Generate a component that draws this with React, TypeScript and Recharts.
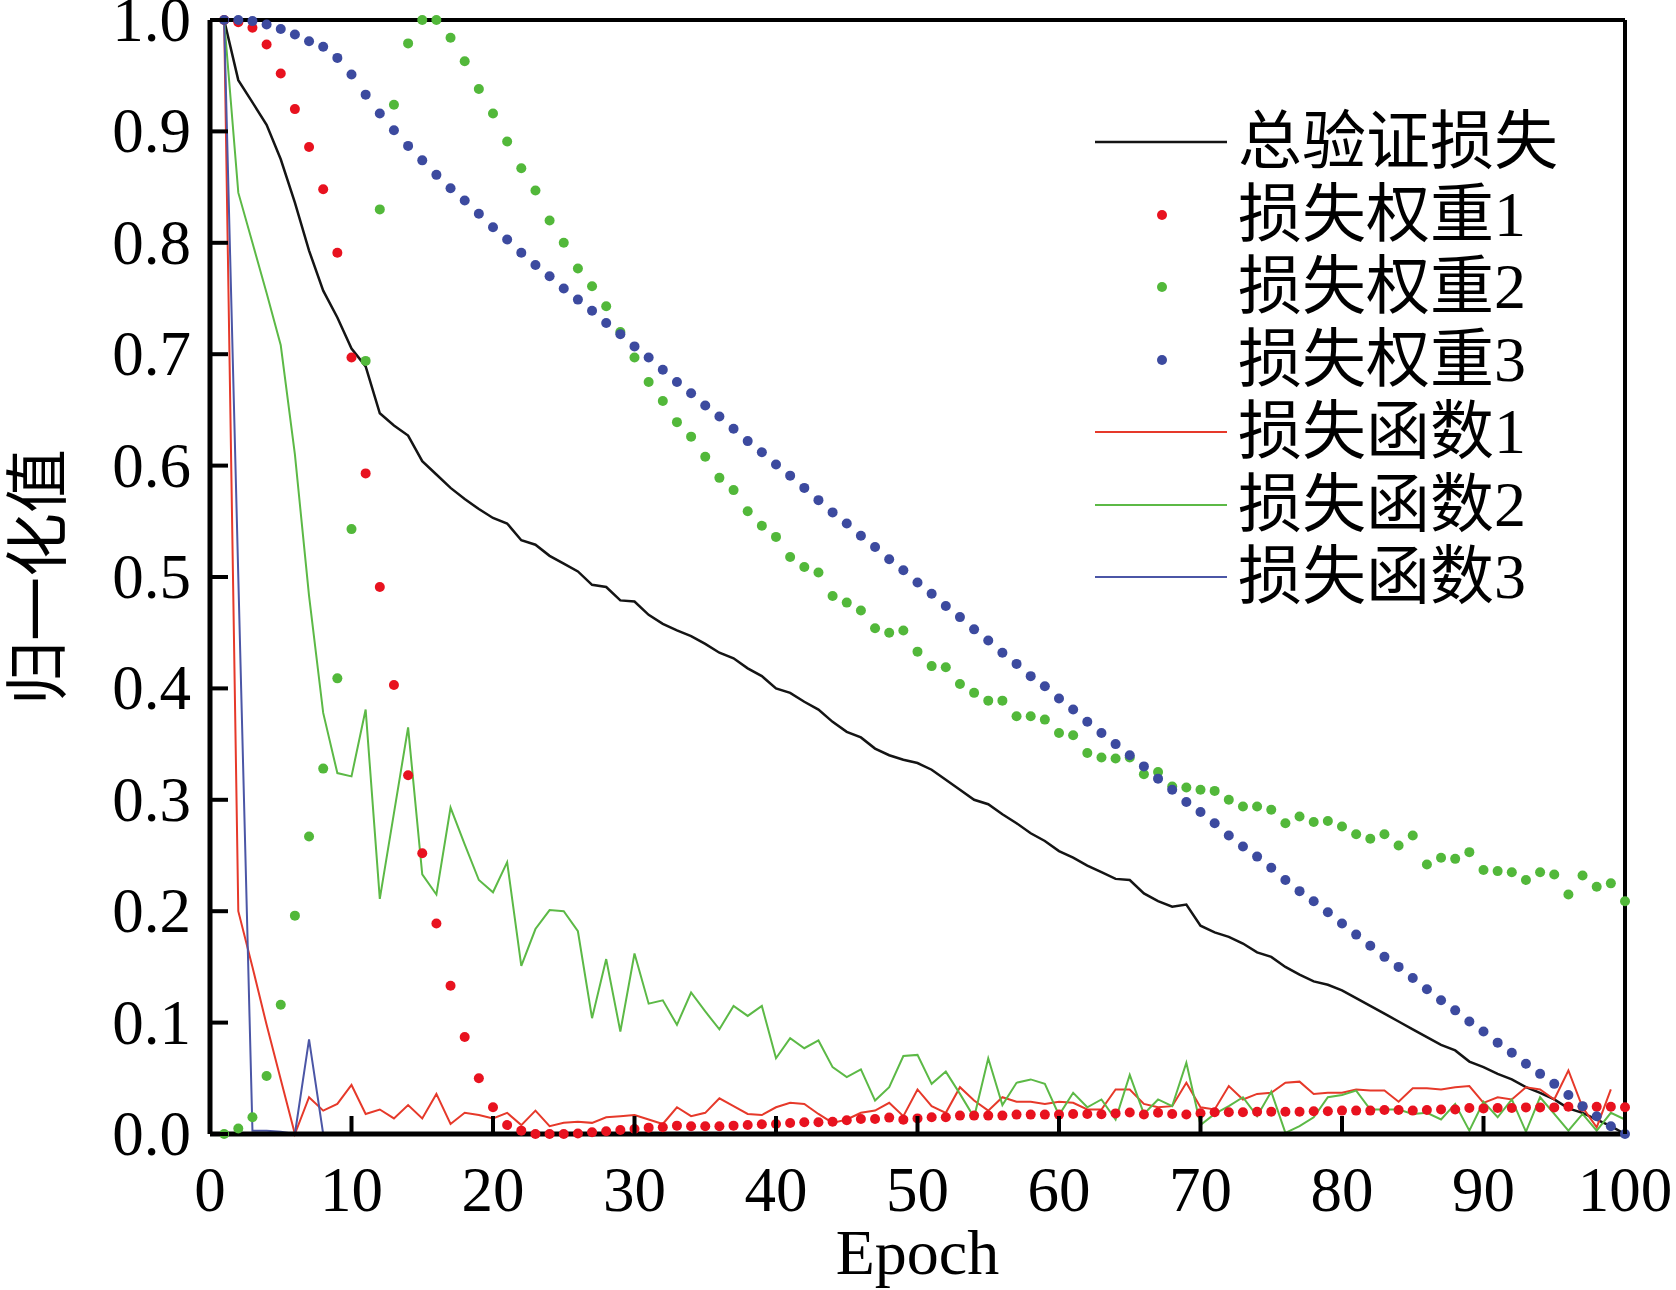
import React from "react";
import { ComposedChart, Line, XAxis, YAxis, Legend, ReferenceLine } from "recharts";

// ── Axis ticks ────────────────────────────────────────────────────────────────

const xTicks = [0, 10, 20, 30, 40, 50, 60, 70, 80, 90, 100];
const yTicks = [0, 0.1, 0.2, 0.3, 0.4, 0.5, 0.6, 0.7, 0.8, 0.9, 1.0];

// ── Series (epoch 1..100) ─────────────────────────────────────────────────────

// 总验证损失 (black line)
const totalLoss = [
  1.0, 0.946, 0.926, 0.906, 0.875, 0.836, 0.793, 0.757, 0.733, 0.705,
  0.689, 0.647, 0.636, 0.627, 0.604, 0.592, 0.58, 0.57, 0.561, 0.553,
  0.548, 0.533, 0.529, 0.519, 0.512, 0.505, 0.493, 0.491, 0.479, 0.478,
  0.466, 0.458, 0.452, 0.447, 0.44, 0.432, 0.427, 0.418, 0.411, 0.4,
  0.396, 0.388, 0.381, 0.37, 0.361, 0.356, 0.346, 0.34, 0.336, 0.333,
  0.327, 0.318, 0.309, 0.3, 0.296, 0.287, 0.279, 0.27, 0.263, 0.254,
  0.248, 0.241, 0.235, 0.229, 0.228, 0.216, 0.209, 0.204, 0.206, 0.187,
  0.181, 0.177, 0.171, 0.163, 0.159, 0.15, 0.143, 0.137, 0.134, 0.129,
  0.122, 0.115, 0.108, 0.101, 0.094, 0.087, 0.08, 0.075, 0.065, 0.06,
  0.054, 0.049, 0.042, 0.037, 0.031, 0.023, 0.019, 0.013, 0.007, 0.0,
];

// 损失权重1 (red dots)
const weight1 = [
  1.0, 0.998, 0.993, 0.978, 0.952, 0.92, 0.886, 0.848, 0.791, 0.697,
  0.593, 0.491, 0.403, 0.322, 0.252, 0.189, 0.133, 0.087, 0.05, 0.024,
  0.008, 0.003, 0.0, 0.0, 0.0, 0.0005, 0.0015, 0.0025, 0.0036, 0.0045,
  0.0057, 0.006, 0.0075, 0.007, 0.007, 0.007, 0.0075, 0.008, 0.0087, 0.009,
  0.0099, 0.0105, 0.0105, 0.011, 0.0123, 0.0135, 0.0135, 0.0147, 0.0129, 0.014,
  0.015, 0.015, 0.0165, 0.0165, 0.0165, 0.0165, 0.0174, 0.0174, 0.0174, 0.0174,
  0.018, 0.018, 0.0178, 0.0185, 0.0193, 0.0175, 0.019, 0.018, 0.0175, 0.0187,
  0.0195, 0.0195, 0.0195, 0.02, 0.02, 0.02, 0.02, 0.0205, 0.0205, 0.021,
  0.021, 0.021, 0.0215, 0.0215, 0.021, 0.0215, 0.022, 0.022, 0.0233, 0.023,
  0.0233, 0.0233, 0.0239, 0.0239, 0.0239, 0.0245, 0.0245, 0.0245, 0.0245, 0.024,
];

// 损失权重2 (green dots)
const weight2 = [
  0.0, 0.005, 0.015, 0.052, 0.116, 0.196, 0.267, 0.328, 0.409, 0.543,
  0.694, 0.83, 0.924, 0.979, 1.0, 1.0, 0.984, 0.963, 0.938, 0.916,
  0.891, 0.867, 0.847, 0.82, 0.8, 0.777, 0.761, 0.743, 0.72, 0.697,
  0.675, 0.658, 0.639, 0.626, 0.608, 0.589, 0.578, 0.559, 0.546, 0.536,
  0.518, 0.509, 0.504, 0.483, 0.477, 0.47, 0.454, 0.45, 0.452, 0.433,
  0.42, 0.419, 0.404, 0.396, 0.389, 0.389, 0.375, 0.375, 0.372, 0.36,
  0.358, 0.342, 0.338, 0.337, 0.338, 0.323, 0.325, 0.312, 0.311, 0.309,
  0.308, 0.3, 0.294, 0.294, 0.291, 0.279, 0.285, 0.28, 0.281, 0.276,
  0.269, 0.265, 0.269, 0.259, 0.268, 0.242, 0.248, 0.247, 0.253, 0.237,
  0.236, 0.235, 0.228, 0.235, 0.233, 0.215, 0.232, 0.222, 0.225, 0.209,
];

// 损失权重3 (blue dots)
const weight3 = [
  1.0, 1.0, 0.999, 0.996, 0.992, 0.987, 0.981, 0.976, 0.966, 0.951,
  0.933, 0.916, 0.901, 0.887, 0.874, 0.861, 0.849, 0.838, 0.826, 0.814,
  0.803, 0.791, 0.78, 0.77, 0.759, 0.749, 0.739, 0.728, 0.718, 0.707,
  0.697, 0.686, 0.675, 0.665, 0.654, 0.644, 0.633, 0.622, 0.612, 0.601,
  0.591, 0.58, 0.569, 0.558, 0.548, 0.537, 0.527, 0.516, 0.506, 0.495,
  0.485, 0.474, 0.464, 0.453, 0.443, 0.432, 0.422, 0.411, 0.402, 0.391,
  0.381, 0.37, 0.36, 0.35, 0.34, 0.33, 0.319, 0.309, 0.298, 0.289,
  0.279, 0.268, 0.258, 0.249, 0.239, 0.228, 0.218, 0.209, 0.199, 0.189,
  0.179, 0.169, 0.159, 0.15, 0.14, 0.13, 0.12, 0.111, 0.101, 0.092,
  0.082, 0.073, 0.063, 0.054, 0.045, 0.035, 0.025, 0.016, 0.007, 0.0,
];

// 损失函数1 (red line) — last epoch has no value
const loss1 = [
  1.0, 0.2, 0.15, 0.098, 0.049, 0.0, 0.033, 0.021, 0.027, 0.044,
  0.018, 0.022, 0.014, 0.026, 0.014, 0.036, 0.009, 0.019, 0.017, 0.014,
  0.019, 0.008, 0.021, 0.007, 0.01, 0.011, 0.01, 0.015, 0.016, 0.017,
  0.013, 0.009, 0.024, 0.016, 0.019, 0.032, 0.025, 0.018, 0.017, 0.024,
  0.028, 0.027, 0.018, 0.01, 0.013, 0.019, 0.021, 0.028, 0.016, 0.04,
  0.025, 0.019, 0.042, 0.03, 0.021, 0.033, 0.029, 0.029, 0.027, 0.029,
  0.028, 0.022, 0.022, 0.04, 0.04, 0.027, 0.024, 0.025, 0.046, 0.024,
  0.022, 0.043, 0.031, 0.036, 0.037, 0.046, 0.047, 0.036, 0.037, 0.037,
  0.04, 0.039, 0.039, 0.029, 0.041, 0.041, 0.04, 0.042, 0.043, 0.028,
  0.033, 0.031, 0.042, 0.04, 0.031, 0.057, 0.024, 0.006, 0.04, null,
];

// 损失函数2 (green line)
const loss2 = [
  1.0, 0.845, 0.8, 0.755, 0.708, 0.61, 0.483, 0.378, 0.324, 0.321,
  0.381, 0.211, 0.288, 0.365, 0.233, 0.215, 0.293, 0.26, 0.228, 0.217,
  0.244, 0.151, 0.184, 0.201, 0.2, 0.182, 0.104, 0.157, 0.092, 0.162,
  0.117, 0.12, 0.098, 0.127, 0.11, 0.094, 0.115, 0.106, 0.115, 0.068,
  0.086, 0.077, 0.084, 0.06, 0.051, 0.058, 0.03, 0.042, 0.07, 0.071,
  0.045, 0.056, 0.036, 0.015, 0.068, 0.026, 0.046, 0.049, 0.045, 0.017,
  0.037, 0.024, 0.031, 0.013, 0.053, 0.018, 0.031, 0.025, 0.064, 0.008,
  0.018, 0.025, 0.033, 0.016, 0.038, 0.001, 0.007, 0.015, 0.033, 0.035,
  0.039, 0.022, 0.022, 0.022, 0.018, 0.019, 0.013, 0.027, 0.003, 0.029,
  0.015, 0.031, 0.002, 0.033, 0.018, 0.003, 0.018, 0.003, 0.019, 0.013,
];

// 损失函数3 (blue line)
const loss3 = [
  1.0, 0.5, 0.003, 0.003, 0.002, 0.0, 0.085, 0.0, 0.0, 0.0,
  0.0, 0.0, 0.0, 0.0, 0.0, 0.0, 0.0, 0.0, 0.0, 0.0,
  0.0, 0.0, 0.0, 0.0, 0.0, 0.0, 0.0, 0.0, 0.0, 0.0,
  0.0, 0.0, 0.0, 0.0, 0.0, 0.0, 0.0, 0.0, 0.0, 0.0,
  0.0, 0.0, 0.0, 0.0, 0.0, 0.0, 0.0, 0.0, 0.0, 0.0,
  0.0, 0.0, 0.0, 0.0, 0.0, 0.0, 0.0, 0.0, 0.0, 0.0,
  0.0, 0.0, 0.0, 0.0, 0.0, 0.0, 0.0, 0.0, 0.0, 0.0,
  0.0, 0.0, 0.0, 0.0, 0.0, 0.0, 0.0, 0.0, 0.0, 0.0,
  0.0, 0.0, 0.0, 0.0, 0.0, 0.0, 0.0, 0.0, 0.0, 0.0,
  0.0, 0.0, 0.0, 0.0, 0.0, 0.0, 0.0, 0.0, 0.0, 0.0,
];

// ── Theme ─────────────────────────────────────────────────────────────────────

const C = {
  axis:   "#000000",
  black:  "#141414",
  redDot: "#e8121f",
  grnDot: "#52b83a",
  bluDot: "#3c4a9f",
  redLn:  "#e6392a",
  grnLn:  "#5cb946",
  bluLn:  "#4b56a6",
} as const;

const SERIF = '"Liberation Serif", "Times New Roman", serif';
const CJK = '"Liberation Serif", "Noto Sans CJK SC", serif';

// drawing order = legend order
const series = [
  { key: "total", name: "总验证损失", color: C.black,  kind: "line", width: 2.5 },
  { key: "w1",    name: "损失权重1",  color: C.redDot, kind: "dot",  width: 0 },
  { key: "w2",    name: "损失权重2",  color: C.grnDot, kind: "dot",  width: 0 },
  { key: "w3",    name: "损失权重3",  color: C.bluDot, kind: "dot",  width: 0 },
  { key: "l1",    name: "损失函数1",  color: C.redLn,  kind: "line", width: 2 },
  { key: "l2",    name: "损失函数2",  color: C.grnLn,  kind: "line", width: 2 },
  { key: "l3",    name: "损失函数3",  color: C.bluLn,  kind: "line", width: 2 },
];

const data = totalLoss.map((v, i) => ({
  epoch: i + 1,
  total: v,
  w1: weight1[i],
  w2: weight2[i],
  w3: weight3[i],
  l1: loss1[i],
  l2: loss2[i],
  l3: loss3[i],
}));

// ── Ticks (inward tick marks + labels) ────────────────────────────────────────

function YTick(props: any) {
  const { x, y, payload } = props;
  return (
    <g>
      <line x1={x} x2={x + 18} y1={y} y2={y} stroke={C.axis} strokeWidth={4} />
      <text x={x - 19} y={y + 21} textAnchor="end" fontFamily={SERIF} fontSize={63} fill="#000">
        {Number(payload.value).toFixed(1)}
      </text>
    </g>
  );
}

function XTick(props: any) {
  const { x, y, payload } = props;
  return (
    <g>
      <line x1={x} x2={x} y1={y} y2={y - 18} stroke={C.axis} strokeWidth={4} />
      <text x={x} y={y + 77} textAnchor="middle" fontFamily={SERIF} fontSize={63} fill="#000">
        {payload.value}
      </text>
    </g>
  );
}

// ── Legend ────────────────────────────────────────────────────────────────────

function LegendBox() {
  return (
    <div style={{ fontFamily: CJK, fontSize: 64, color: "#000" }}>
      {series.map((s) => (
        <div key={s.key} style={{ display: "flex", alignItems: "center", height: 72.5 }}>
          <svg width={132} height={20} style={{ marginRight: 11, flex: "none" }}>
            {s.kind === "dot" ? (
              <circle cx={67} cy={10} r={5} fill={s.color} />
            ) : (
              <line x1={0} x2={132} y1={10} y2={10} stroke={s.color} strokeWidth={s.width} />
            )}
          </svg>
          <span style={{ lineHeight: "72px", whiteSpace: "nowrap" }}>{s.name}</span>
        </div>
      ))}
    </div>
  );
}

// ── Chart ─────────────────────────────────────────────────────────────────────

export default function App() {
  return (
    <div style={{ position: "absolute", left: 0, top: 0, width: 1676, height: 1290, background: "#fff" }}>
      <ComposedChart
        width={1676}
        height={1290}
        data={data}
        margin={{ top: 20, right: 51, bottom: 56, left: 110 }}
      >
        <XAxis
          type="number"
          dataKey="epoch"
          domain={[0, 100]}
          ticks={xTicks}
          interval={0}
          height={100}
          tickSize={0}
          tickMargin={0}
          tickLine={false}
          tick={<XTick />}
          axisLine={{ stroke: C.axis, strokeWidth: 5 }}
          label={{
            value: "Epoch",
            position: "bottom",
            offset: -5,
            style: { fontFamily: SERIF, fontSize: 64, fill: "#000" },
          }}
        />
        <YAxis
          type="number"
          domain={[0, 1]}
          ticks={yTicks}
          interval={0}
          width={100}
          tickSize={0}
          tickMargin={0}
          tickLine={false}
          tick={<YTick />}
          axisLine={{ stroke: C.axis, strokeWidth: 5 }}
          label={{
            value: "归一化值",
            angle: -90,
            position: "left",
            offset: 73,
            style: { fontFamily: CJK, fontSize: 64, fill: "#000", textAnchor: "middle" },
          }}
        />

        {/* box frame: top and right edges */}
        <ReferenceLine y={1} stroke={C.axis} strokeWidth={4} />
        <ReferenceLine x={100} stroke={C.axis} strokeWidth={4} />

        {series.map((s) =>
          s.kind === "dot" ? (
            <Line
              key={s.key}
              type="linear"
              dataKey={s.key}
              stroke="none"
              dot={{ r: 5, fill: s.color, stroke: "none", strokeWidth: 0 }}
              activeDot={false}
              isAnimationActive={false}
            />
          ) : (
            <Line
              key={s.key}
              type="linear"
              dataKey={s.key}
              stroke={s.color}
              strokeWidth={s.width}
              dot={false}
              activeDot={false}
              isAnimationActive={false}
            />
          )
        )}

        <Legend
          layout="vertical"
          align="center"
          verticalAlign="middle"
          wrapperStyle={{ left: 1095, top: 106, width: 540 }}
          content={() => <LegendBox />}
        />
      </ComposedChart>
    </div>
  );
}
